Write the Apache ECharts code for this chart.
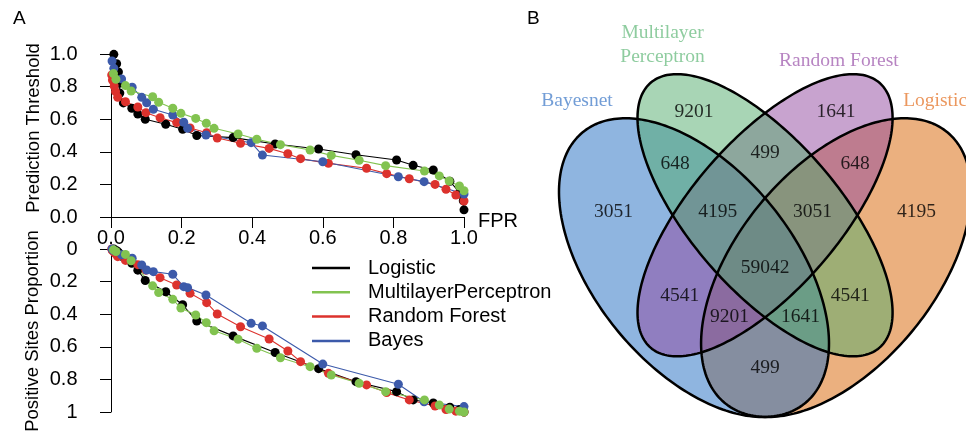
<!DOCTYPE html>
<html><head><meta charset="utf-8">
<script src="https://cdn.jsdelivr.net/npm/echarts@6/dist/echarts.min.js"></script>
<style>html,body{margin:0;padding:0;background:#fff}#c{width:966px;height:435px}</style>
</head><body><div id="c"></div>
<script>
// ---------- Panel A data ----------
const modelNames = ['Logistic', 'MultilayerPerceptron', 'Random Forest', 'Bayes'];
const modelColors = ['#000000', '#82c350', '#dc322d', '#3c5aaa'];

const fprLogistic  = [0.008,0.016,0.021,0.024,0.025,0.035,0.059,0.076,0.097,0.155,0.203,0.243,0.346,0.465,0.588,0.694,0.809,0.856,0.913,0.960,0.988,0.998,1.000];
const thrLogistic  = [0.998,0.94,0.89,0.82,0.76,0.70,0.667,0.632,0.60,0.569,0.538,0.50,0.487,0.448,0.417,0.382,0.35,0.317,0.288,0.219,0.150,0.100,0.044];
const propLogistic = [0.0,0.01,0.02,0.03,0.035,0.05,0.088,0.13,0.193,0.262,0.342,0.442,0.533,0.635,0.734,0.814,0.875,0.926,0.945,0.971,0.985,0.995,1.0];

const fprMLP  = [0.007,0.014,0.041,0.057,0.118,0.135,0.175,0.198,0.240,0.270,0.292,0.360,0.413,0.480,0.564,0.624,0.703,0.778,0.888,0.930,0.958,0.987,1.000];
const thrMLP  = [0.88,0.845,0.806,0.773,0.738,0.704,0.667,0.636,0.605,0.575,0.544,0.509,0.477,0.444,0.411,0.378,0.348,0.315,0.282,0.252,0.221,0.19,0.161];
const propMLP = [0.005,0.015,0.033,0.072,0.226,0.267,0.309,0.362,0.405,0.452,0.502,0.554,0.609,0.667,0.722,0.773,0.824,0.875,0.926,0.957,0.982,0.995,1.0];

const fprRF  = [0.002,0.004,0.009,0.013,0.019,0.041,0.076,0.099,0.139,0.186,0.224,0.271,0.301,0.367,0.448,0.501,0.537,0.616,0.724,0.781,0.845,0.918,0.949,0.977,1.000];
const thrRF  = [0.871,0.84,0.804,0.769,0.734,0.707,0.675,0.64,0.609,0.579,0.546,0.517,0.485,0.452,0.421,0.388,0.358,0.329,0.299,0.266,0.235,0.20,0.17,0.135,0.098];
const propRF = [0.0,0.01,0.02,0.03,0.047,0.07,0.096,0.13,0.176,0.221,0.272,0.329,0.399,0.477,0.552,0.626,0.691,0.763,0.834,0.881,0.926,0.963,0.985,0.995,1.0];

const fprBayes  = [0.003,0.008,0.030,0.060,0.087,0.101,0.120,0.175,0.206,0.217,0.269,0.397,0.429,0.600,0.814,0.887,1.000];
const thrBayes  = [0.957,0.912,0.847,0.796,0.734,0.701,0.661,0.626,0.581,0.544,0.503,0.456,0.38,0.339,0.247,0.217,0.141];
const propBayes = [0.0,0.01,0.035,0.057,0.098,0.129,0.139,0.155,0.231,0.237,0.282,0.456,0.472,0.706,0.83,0.937,0.967];

const axisTicks = [0, 0.2, 0.4, 0.6, 0.8, 1.0];

// ---------- Panel B data ----------
const vennSetNames  = ['Bayesnet', 'Multilayer\nPerceptron', 'Random Forest', 'Logistic'];
const vennCounts    = [3051, 9201, 1641, 4195, 648, 499, 648, 4195, 3051, 59042, 4541, 4541, 9201, 1641, 499];

// ---------- layout / style (not data) ----------
const vennCountU = [0.18,0.35,0.65,0.82,0.31,0.5,0.69,0.4,0.6,0.5,0.32,0.68,0.425,0.575,0.5];
const vennCountV = [0.577,0.767,0.767,0.577,0.668,0.689,0.668,0.577,0.577,0.469,0.416,0.416,0.376,0.376,0.278];
const vennSetU = [0.103, 0.2836, 0.656, 0.859];
const vennSetV = [0.788, 0.895, 0.864, 0.788];
const vennSetColor = ['#4f84cc', '#72bf87', '#a565b3', '#e67d36'];
const vennCX = [0.35, 0.5, 0.5, 0.65];
const vennCY = [0.47, 0.57, 0.57, 0.47];
const vennA  = [0.35, 0.35, 0.35, 0.35];
const vennB  = [0.2, 0.15, 0.15, 0.2];
const vennRot = [135, 135, 45, 45];
const vennFill = ['rgba(31,107,193,0.5)', 'rgba(81,171,107,0.5)', 'rgba(145,71,159,0.5)', 'rgba(215,97,0,0.5)'];
const vennDrawOrder = [3, 0, 2, 1];

const FONT = 'Liberation Sans, Arial, sans-serif';
const SERIF = 'Liberation Serif, Times New Roman, serif';

function zip(a, b) { return a.map((v, i) => [v, b[i]]); }

const topSeriesSrc = [
  [0, fprLogistic, thrLogistic], [2, fprRF, thrRF], [3, fprBayes, thrBayes], [1, fprMLP, thrMLP]
];
const botSeriesSrc = [
  [0, fprLogistic, propLogistic], [2, fprRF, propRF], [3, fprBayes, propBayes], [1, fprMLP, propMLP]
];

function lineSeries(src, gi) {
  return src.map(([k, xs, ys]) => ({
    type: 'line', name: modelNames[k], xAxisIndex: gi, yAxisIndex: gi,
    data: zip(xs, ys), symbol: 'circle', symbolSize: 9, showSymbol: true,
    itemStyle: { color: modelColors[k] }, lineStyle: { color: modelColors[k], width: 1.1 },
    emphasis: { disabled: true }, z: 3
  }));
}

function ellipseRender(fillMode) {
  return function (params, api) {
    const k = vennDrawOrder[params.dataIndex];
    const th = vennRot[k] * Math.PI / 180, pts = [];
    for (let i = 0; i < 240; i++) {
      const t = i / 240 * 2 * Math.PI;
      const x = vennCX[k] + vennA[k] * Math.cos(t) * Math.cos(th) - vennB[k] * Math.sin(t) * Math.sin(th);
      const y = vennCY[k] + vennA[k] * Math.cos(t) * Math.sin(th) + vennB[k] * Math.sin(t) * Math.cos(th);
      pts.push(api.coord([x, y]));
    }
    return {
      type: 'polygon', shape: { points: pts },
      style: fillMode ? { fill: vennFill[k], stroke: null } : { fill: null, stroke: '#000', lineWidth: 2.5 }
    };
  };
}

const axisCommon = {
  axisLine: { show: true, lineStyle: { color: '#000', width: 1 } },
  axisTick: { show: true, length: 11, lineStyle: { color: '#000', width: 1 } },
  splitLine: { show: false },
  axisLabel: { color: '#000', fontSize: 20, fontFamily: FONT }
};

const option = {
  animation: false,
  backgroundColor: '#fff',
  grid: [
    { left: 111, top: 54, width: 353, height: 163, outerBoundsMode: 'none' },
    { left: 111, top: 249, width: 353, height: 163, outerBoundsMode: 'none' },
    { left: 551.9, top: 16.1, width: 402.6, height: 414, outerBoundsMode: 'none' }
  ],
  xAxis: [
    Object.assign({}, axisCommon, { gridIndex: 0, type: 'value', min: 0, max: 1, interval: 0.2,
      axisLabel: Object.assign({}, axisCommon.axisLabel, { margin: 11, formatter: v => v.toFixed(1) }) }),
    { gridIndex: 1, type: 'value', min: 0, max: 1, show: false },
    { gridIndex: 2, type: 'value', min: 0.05, max: 0.9, show: false }
  ],
  yAxis: [
    Object.assign({}, axisCommon, { gridIndex: 0, type: 'value', min: 0, max: 1, interval: 0.2, offset: 14.5,
      axisLabel: Object.assign({}, axisCommon.axisLabel, { margin: 19, formatter: v => v.toFixed(1) }) }),
    Object.assign({}, axisCommon, { gridIndex: 1, type: 'value', min: 0, max: 1, interval: 0.2, offset: 14.5, inverse: true,
      axisLabel: Object.assign({}, axisCommon.axisLabel, { margin: 19, formatter: v => String(+v.toFixed(1)) }) }),
    { gridIndex: 2, type: 'value', min: 0.16, max: 0.95, show: false }
  ],
  legend: {
    data: modelNames, orient: 'vertical', left: 312, top: 256, padding: 0,
    icon: 'rect', itemWidth: 38, itemHeight: 2.5, itemGap: 0.3,
    selectedMode: false,
    textStyle: { fontSize: 20, fontFamily: FONT, color: '#000', lineHeight: 24, padding: [0, 0, 0, 13] }
  },
  graphic: [
    { type: 'text', left: 13, top: 9, style: { text: 'A', fontSize: 19, fontFamily: FONT, fill: '#000' } },
    { type: 'text', left: 527, top: 9, style: { text: 'B', fontSize: 19, fontFamily: FONT, fill: '#000' } },
    { type: 'text', x: 34, y: 128, rotation: Math.PI / 2,
      style: { text: 'Prediction Threshold', fontSize: 18.5, fontFamily: FONT, fill: '#000', align: 'center', verticalAlign: 'middle' } },
    { type: 'text', x: 33, y: 331, rotation: Math.PI / 2,
      style: { text: 'Positive Sites Proportion', fontSize: 18.5, fontFamily: FONT, fill: '#000', align: 'center', verticalAlign: 'middle' } },
    { type: 'text', x: 478, y: 221,
      style: { text: 'FPR', fontSize: 20, fontFamily: FONT, fill: '#000', align: 'left', verticalAlign: 'middle' } }
  ],
  series: [
    ...lineSeries(topSeriesSrc, 0),
    ...lineSeries(botSeriesSrc, 1),
    { type: 'custom', xAxisIndex: 2, yAxisIndex: 2, clip: false, z: 1,
      data: vennDrawOrder.map(k => [vennCX[k], vennCY[k]]), renderItem: ellipseRender(true), silent: true },
    { type: 'custom', xAxisIndex: 2, yAxisIndex: 2, clip: false, z: 2,
      data: vennDrawOrder.map(k => [vennCX[k], vennCY[k]]), renderItem: ellipseRender(false), silent: true },
    { type: 'scatter', xAxisIndex: 2, yAxisIndex: 2, z: 5, symbolSize: 0, silent: true,
      data: vennCounts.map((c, i) => [vennCountU[i], vennCountV[i], c]),
      label: { show: true, position: 'inside', formatter: p => String(p.value[2]),
        fontSize: 19.5, fontFamily: SERIF, color: '#000' } },
    { type: 'scatter', xAxisIndex: 2, yAxisIndex: 2, z: 5, symbolSize: 0, silent: true,
      data: vennSetNames.map((n, i) => ({ value: [vennSetU[i], vennSetV[i]], name: n,
        label: { color: vennSetColor[i] } })),
      label: { show: true, position: 'inside', formatter: p => p.name,
        fontSize: 19.5, fontFamily: SERIF, lineHeight: 24, align: 'center' } }
  ]
};

const chart = echarts.init(document.getElementById('c'), null, { renderer: 'canvas' });
chart.setOption(option);
</script></body></html>
